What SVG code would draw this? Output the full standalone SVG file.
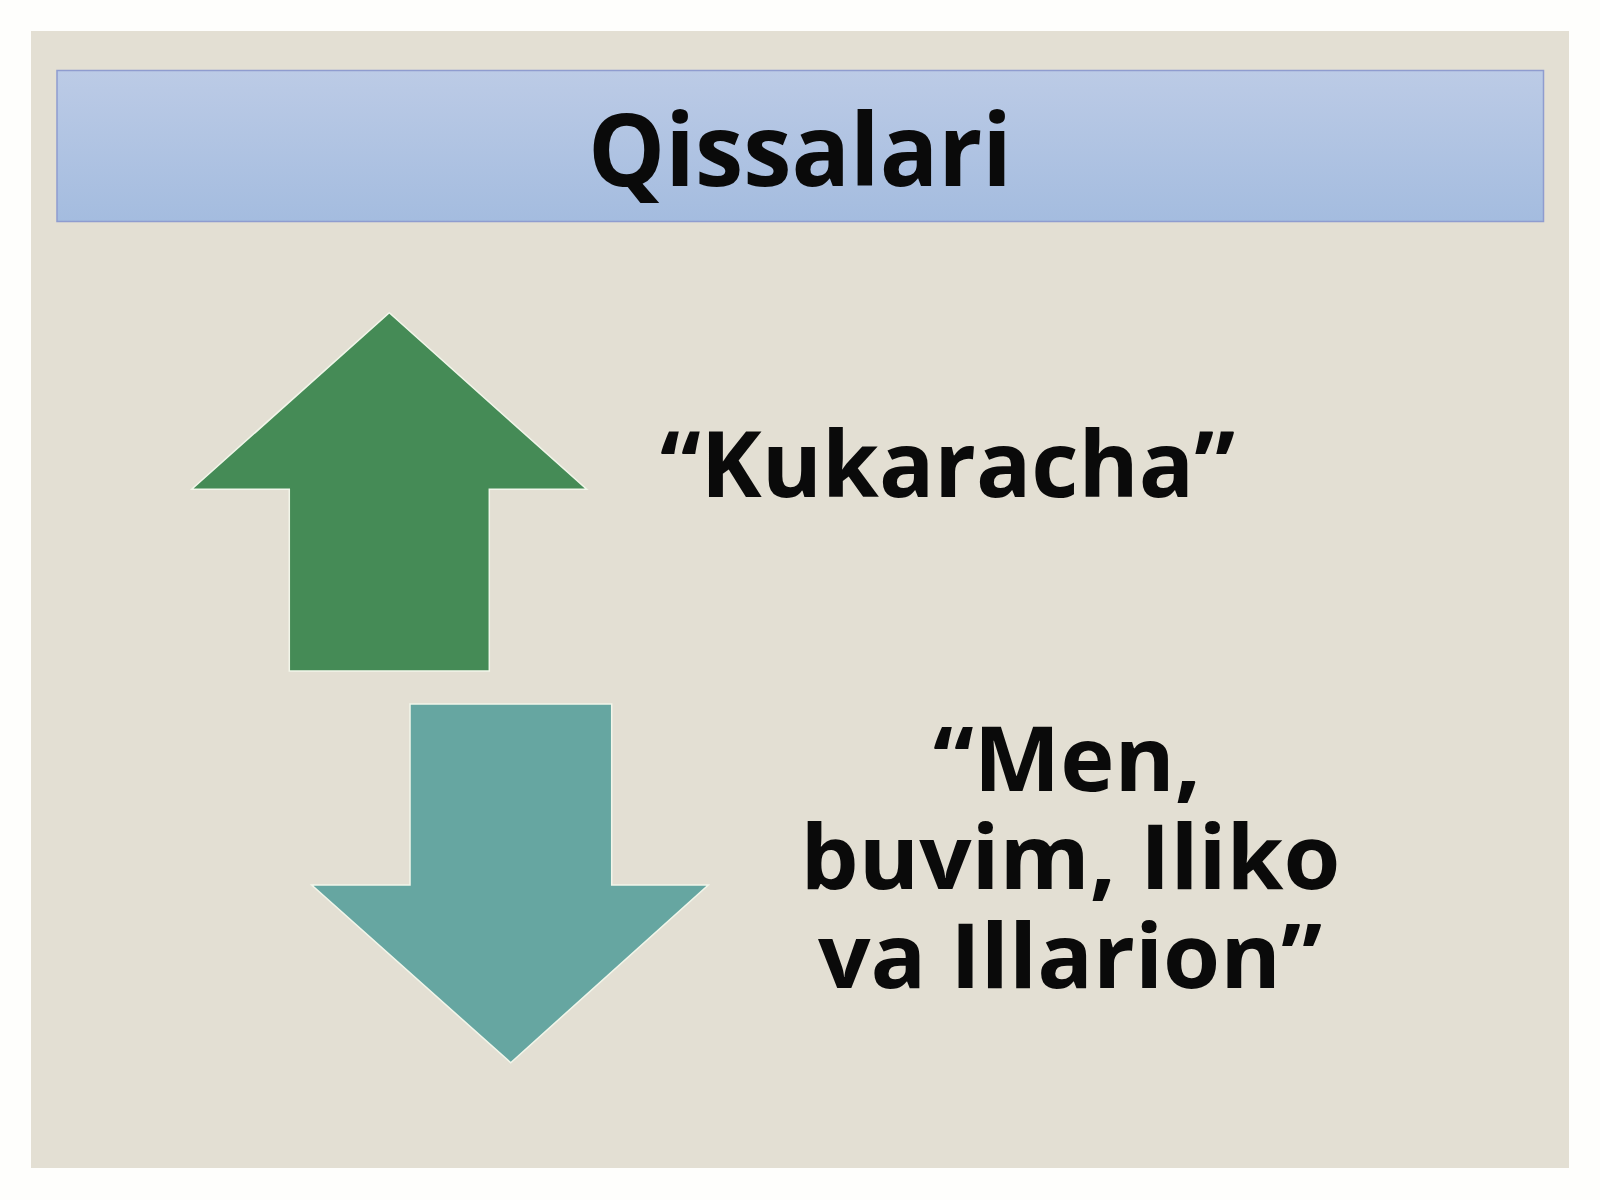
<svg xmlns="http://www.w3.org/2000/svg" width="1600" height="1200" viewBox="0 0 1600 1200">
  <defs>
    <linearGradient id="hdr" x1="0" y1="0" x2="0" y2="1">
      <stop offset="0" stop-color="#bccbe6"/>
      <stop offset="1" stop-color="#a4bcdf"/>
    </linearGradient>
  </defs>
  <style>
    .t { font-family: "Open Sans", "Noto Sans", "DejaVu Sans", sans-serif; font-weight: 700; fill: #0a0a0a; text-anchor: middle; }
    .arrow { stroke: #f2f6ea; stroke-width: 1.5; stroke-linejoin: miter; }
  </style>
  <rect x="0" y="0" width="1600" height="1200" fill="#fefefc"/>
  <rect id="panel" x="31" y="31" width="1538" height="1137" fill="#e3dfd3"/>
  <g id="header">
    <rect x="57" y="70.5" width="1486.5" height="151" fill="url(#hdr)" stroke="#8f9ccf" stroke-width="1.5"/>
    <text class="t" x="800" y="186" font-size="100" textLength="424" lengthAdjust="spacingAndGlyphs">Qissalari</text>
  </g>
  <g id="arrow-up">
    <polygon class="arrow" fill="#458b56" points="389.3,312.7 586.7,489.3 489.3,489.3 489.3,671 289.3,671 289.3,489.3 191.7,489.3"/>
  </g>
  <g id="arrow-down">
    <polygon class="arrow" fill="#66a6a1" points="410,704 611.7,704 611.7,885 708.3,885 510.7,1062.7 311.7,885 410,885"/>
  </g>
  <g id="label-kukaracha">
    <text class="t" x="947.5" y="497" font-size="91" textLength="575" lengthAdjust="spacingAndGlyphs">“Kukaracha”</text>
  </g>
  <g id="label-men">
    <text class="t" font-size="90"><tspan x="1067" y="791" textLength="268" lengthAdjust="spacingAndGlyphs">“Men,</tspan><tspan x="1070.5" y="889" textLength="540" lengthAdjust="spacingAndGlyphs">buvim, Iliko</tspan><tspan x="1070" y="988" textLength="504" lengthAdjust="spacingAndGlyphs">va Illarion”</tspan></text>
  </g>
  <g id="connectors"/>
</svg>
